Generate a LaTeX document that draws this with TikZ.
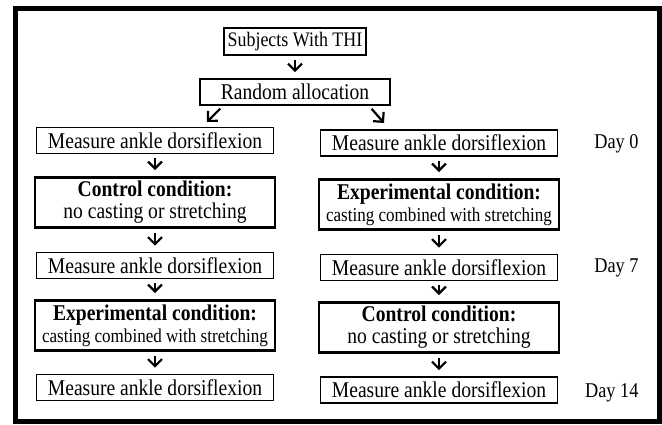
\documentclass[tikz,border=0pt]{standalone}
\usepackage{fontspec}
\setmainfont{Liberation Serif}[FakeStretch=0.87]
\usetikzlibrary{arrows.meta}
\tikzset{
  box/.style={draw=black, rectangle, inner sep=0pt, align=center, font=\fontsize{22.5}{22}\selectfont},
  topbox/.style={box, line width=2.6pt, minimum width=142pt, minimum height=27pt, font=\fontsize{20.6}{22}\selectfont},
  randbox/.style={box, line width=1.6pt, minimum width=190pt, minimum height=26pt},
  meas/.style={box, line width=1.6pt, minimum width=237pt, minimum height=26pt},
  cond/.style={box, line width=2.8pt, minimum width=240pt, minimum height=50pt},
  flow/.style={draw=black, line width=2.2pt, -{Straight Barb[length=7pt,width=14pt]}, shorten <=4pt, shorten >=6pt},
  daylab/.style={anchor=east, font=\fontsize{21}{22}\selectfont},
  frame/.style={draw=black, line width=5pt},
}
\newcommand{\castfont}{\fontsize{19.6}{22}\selectfont}
\begin{document}
\begin{tikzpicture}[x=1pt,y=-1pt]
  \useasboundingbox[fill=white] (0,0) rectangle (662,425);
  \draw[frame] (15.5,9) rectangle (659.5,421);

  % top of the chart
  \node[topbox] (subj) at (295,41.5) {Subjects With THI};
  \node[randbox] (rand) at (295,92) {Random allocation};
  \coordinate (tipL) at (207,122);
  \coordinate (tipR) at (384,123);

  % left arm
  \node[meas] (m0L) at (155,140.5) {Measure ankle dorsiflexion};
  \node[cond] (c1L) at (155,202.5) {\textbf{Control condition:}\\no casting or stretching};
  \node[meas] (m7L) at (155,265.5) {Measure ankle dorsiflexion};
  \node[cond] (c2L) at (155,325.5) {\textbf{Experimental condition:}\\{\castfont casting combined with stretching}};
  \node[meas] (m14L) at (155,387.5) {Measure ankle dorsiflexion};

  % right arm
  \node[meas] (m0R) at (439,143) {Measure ankle dorsiflexion};
  \node[cond] (c1R) at (439,204.5) {\textbf{Experimental condition:}\\{\castfont casting combined with stretching}};
  \node[meas] (m7R) at (439,267.5) {Measure ankle dorsiflexion};
  \node[cond] (c2R) at (439,327.5) {\textbf{Control condition:}\\no casting or stretching};
  \node[meas] (m14R) at (439,390) {Measure ankle dorsiflexion};

  % days
  \node[daylab] (d0) at (642,144) {Day 0};
  \node[daylab] (d7) at (642,268) {Day 7};
  \node[daylab] (d14) at (642,393) {Day 14};

  % arrows
  \draw[flow] (subj) -- (rand);
  \draw[flow, shorten >=0pt] ([xshift=-72pt]rand.south) -- (tipL);
  \draw[flow, shorten >=0pt] ([xshift=74pt]rand.south) -- (tipR);
  \draw[flow] (m0L) -- (c1L);
  \draw[flow] (c1L) -- (m7L);
  \draw[flow] (m7L) -- (c2L);
  \draw[flow] (c2L) -- (m14L);
  \draw[flow] (m0R) -- (c1R);
  \draw[flow] (c1R) -- (m7R);
  \draw[flow] (m7R) -- (c2R);
  \draw[flow] (c2R) -- (m14R);
\end{tikzpicture}
\end{document}
